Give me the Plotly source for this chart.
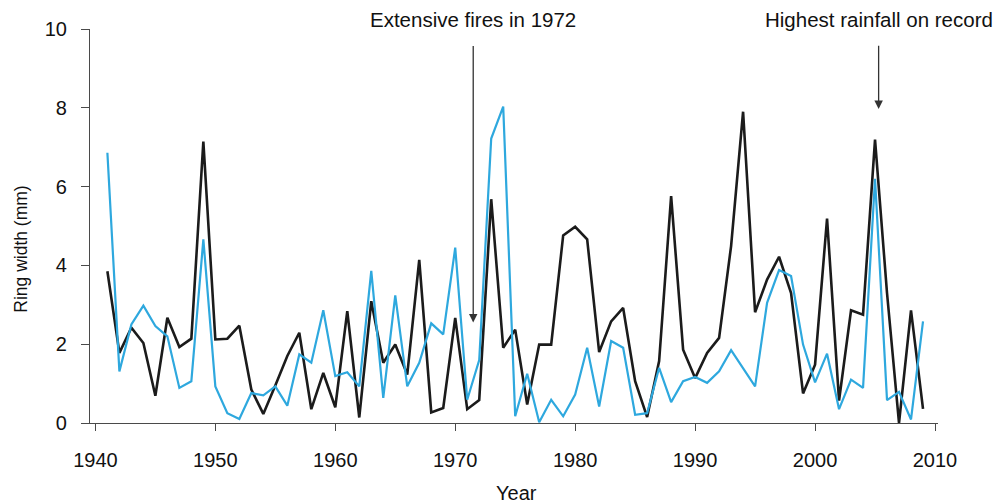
import plotly.graph_objects as go

# Annual tree-ring widths (mm), 1941-2009
years = list(range(1941, 2010))

ring_black = [
    3.85, 1.78, 2.42, 2.03, 0.69, 2.67, 1.93, 2.14, 7.14, 2.12,
    2.14, 2.47, 0.85, 0.23, 0.95, 1.70, 2.29, 0.35, 1.27, 0.40,
    2.84, 0.14, 3.09, 1.53, 1.99, 1.23, 4.14, 0.27, 0.38, 2.67,
    0.35, 0.58, 5.68, 1.91, 2.37, 0.47, 1.99, 1.99, 4.76, 4.98,
    4.66, 1.80, 2.58, 2.92, 1.06, 0.15, 1.57, 5.76, 1.86, 1.14,
    1.78, 2.16, 4.49, 7.90, 2.81, 3.64, 4.22, 3.30, 0.75, 1.48,
    5.19, 0.57, 2.86, 2.75, 7.19, 3.30, 0.00, 2.86, 0.36,
]

ring_blue = [
    6.86, 1.31, 2.50, 2.98, 2.46, 2.20, 0.89, 1.06, 4.66, 0.93,
    0.25, 0.10, 0.76, 0.70, 0.93, 0.44, 1.74, 1.53, 2.86, 1.19,
    1.29, 0.93, 3.86, 0.64, 3.24, 0.93, 1.53, 2.53, 2.25, 4.45,
    0.59, 1.60, 7.22, 8.03, 0.17, 1.25, 0.02, 0.59, 0.17, 0.72,
    1.91, 0.42, 2.08, 1.91, 0.21, 0.25, 1.40, 0.53, 1.06, 1.17,
    1.02, 1.31, 1.85, 1.40, 0.93, 3.05, 3.88, 3.73, 1.99, 1.03,
    1.76, 0.35, 1.10, 0.89, 6.20, 0.58, 0.79, 0.09, 2.58,
]

x_ticks = [1940, 1950, 1960, 1970, 1980, 1990, 2000, 2010]
y_ticks = [0, 2, 4, 6, 8, 10]

# Event markers: (label, year, ring width at arrow tip)
events = [
    ("Extensive fires in 1972", 1971.5, 2.55),
    ("Highest rainfall on record", 2005.3, 7.97),
]

FONT = "Liberation Sans, Arial, Helvetica, sans-serif"
AXIS_COLOR = "#4a4a4a"

W, H = 1007, 504
ml, mr, mt, mb = 90, 69, 29.3, 80.7
pw, ph = W - ml - mr, H - mt - mb

def px_to_paper_x(px):
    return (px - ml) / pw

def px_to_paper_y(py):
    return (H - mb - py) / ph

fig = go.Figure()
fig.add_trace(go.Scatter(
    x=years, y=ring_black, mode="lines",
    line=dict(color="#1b1b1b", width=2.6),
    showlegend=False,
))
fig.add_trace(go.Scatter(
    x=years, y=ring_blue, mode="lines",
    line=dict(color="#2ea8de", width=2.2),
    showlegend=False,
))

annotations = []
for label, yr, val in events:
    # label above the plotting area
    annotations.append(dict(
        x=yr, xref="x", y=px_to_paper_y(20), yref="paper",
        text=label, showarrow=False,
        font=dict(family=FONT, size=20.5, color="#111111"),
        xanchor="center", yanchor="middle",
    ))
    # arrow pointing down to the event year
    tip_px = 423.3 - val * 39.33
    annotations.append(dict(
        x=yr, y=val, xref="x", yref="y", text="",
        showarrow=True, arrowhead=2, arrowsize=1.3, arrowwidth=1.3,
        arrowcolor="#333333", ax=0, ay=45 - tip_px,
        standoff=0,
    ))

# axis titles
annotations.append(dict(
    x=px_to_paper_x(516), xref="paper", y=px_to_paper_y(493), yref="paper",
    text="Year", showarrow=False, xanchor="center", yanchor="middle",
    font=dict(family=FONT, size=20, color="#111111"),
))
annotations.append(dict(
    x=px_to_paper_x(21), xref="paper", y=px_to_paper_y(250), yref="paper",
    text="Ring width (mm)", showarrow=False, textangle=-90,
    xanchor="center", yanchor="middle",
    font=dict(family=FONT, size=17.5, color="#111111"),
))

fig.update_layout(
    width=W, height=H,
    margin=dict(l=ml, r=mr, t=mt, b=mb, pad=0),
    paper_bgcolor="white", plot_bgcolor="white",
    font=dict(family=FONT, size=20, color="#111111"),
    annotations=annotations,
)

fig.update_xaxes(
    range=[1939.55, 2010.25],
    tickvals=x_ticks, ticktext=[str(v) for v in x_ticks],
    showgrid=False, zeroline=False,
    showline=True, linecolor=AXIS_COLOR, linewidth=1.2,
    ticks="outside", ticklen=7, tickwidth=1.2, tickcolor=AXIS_COLOR,
    ticklabelstandoff=12,
    tickfont=dict(family=FONT, size=20, color="#111111"),
)
fig.update_yaxes(
    range=[0, 10],
    tickvals=y_ticks,
    showgrid=False, zeroline=False,
    showline=True, linecolor=AXIS_COLOR, linewidth=1.2,
    ticks="outside", ticklen=8, tickwidth=1.2, tickcolor=AXIS_COLOR,
    ticklabelstandoff=10,
    tickfont=dict(family=FONT, size=20, color="#111111"),
)

fig.write_html("out.html")
